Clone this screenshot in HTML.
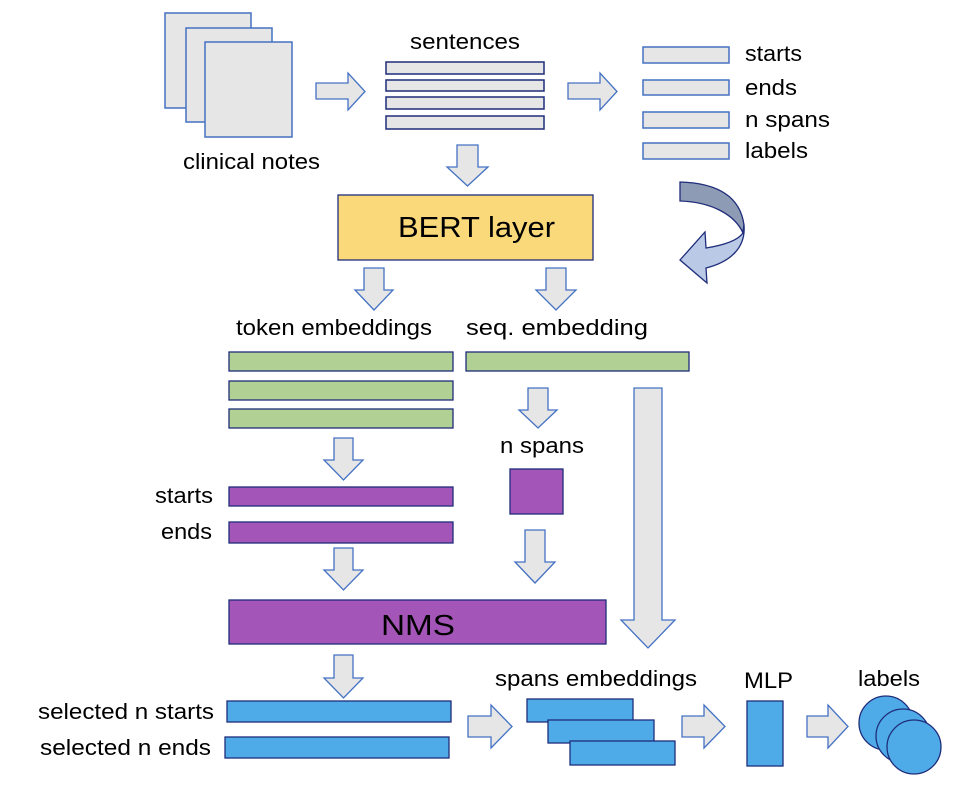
<!DOCTYPE html>
<html><head><meta charset="utf-8"><style>
html,body{margin:0;padding:0;background:#fff;}
svg{display:block;}
text{font-family:"Liberation Sans",Arial,sans-serif;fill:#000;}
</style></head><body>
<svg width="966" height="792" viewBox="0 0 966 792" xmlns="http://www.w3.org/2000/svg">
<defs>
<style>
.pg{fill:#e6e6e6;stroke:#4472c4;stroke-width:1.5}
.ar{fill:#e6e6e6;stroke:#4472c4;stroke-width:1.3}
.bar{fill:#e6e6e6;stroke:#1f2d7a;stroke-width:1.5}
.gr{fill:#b1d094;stroke:#1f2d7a;stroke-width:1.3}
.pu{fill:#a455b8;stroke:#1f2d7a;stroke-width:1.3}
.bl{fill:#4eabe8;stroke:#1f2d7a;stroke-width:1.3}
.t{font-size:22px}
</style>
</defs>
<rect class="pg" x="165" y="13" width="86" height="95"/>
<rect class="pg" x="186" y="28" width="86" height="94"/>
<rect class="pg" x="205" y="42" width="87" height="95"/>
<text class="t" x="183" y="169" textLength="137" lengthAdjust="spacingAndGlyphs">clinical notes</text>
<path class="ar" d="M316,83 H348 V73 L365,91.5 L348,110 V99 H316 Z"/>
<text class="t" x="410" y="49" textLength="110" lengthAdjust="spacingAndGlyphs">sentences</text>
<rect class="bar" x="386" y="62" width="158" height="12"/>
<rect class="bar" x="386" y="80" width="158" height="11"/>
<rect class="bar" x="386" y="97" width="158" height="12"/>
<rect class="bar" x="386" y="116" width="158" height="13"/>
<path class="ar" d="M568,83 H600 V73 L617,91.5 L600,110 V99 H568 Z"/>
<rect class="pg" x="643" y="47" width="86" height="16"/>
<rect class="pg" x="643" y="80" width="86" height="15"/>
<rect class="pg" x="643" y="112" width="86" height="16"/>
<rect class="pg" x="643" y="143" width="86" height="16"/>
<text class="t" x="745" y="61" textLength="57" lengthAdjust="spacingAndGlyphs">starts</text>
<text class="t" x="745" y="95" textLength="52" lengthAdjust="spacingAndGlyphs">ends</text>
<text class="t" x="745" y="127" textLength="85" lengthAdjust="spacingAndGlyphs">n spans</text>
<text class="t" x="745" y="158" textLength="63" lengthAdjust="spacingAndGlyphs">labels</text>
<path class="ar" d="M457,145 H478 V167 H488 L467.5,186 L447,167 H457 Z"/>
<rect x="338" y="195" width="255" height="65" fill="#f9d97a" stroke="#1f2d7a" stroke-width="1.3"/>
<text x="398" y="237" font-size="29" textLength="157" lengthAdjust="spacingAndGlyphs">BERT layer</text>
<path d="M680,182 C715,183 740,195 744,225 L743,233 C735,215 712,202 680,201 Z" fill="#8e9bb4" stroke="#1f2d7a" stroke-width="1.3"/>
<path d="M744,225 C746,248 730,262 706,268 L707,283 L680,260 L705,232 L706,248 C725,245 738,240 743,233 Z" fill="#b9c9e6" stroke="#1f2d7a" stroke-width="1.3"/>
<path class="ar" d="M364,268 H384 V290 H393 L374,310 L355,290 H364 Z"/>
<path class="ar" d="M546,268 H566 V290 H576 L556,310 L536,290 H546 Z"/>
<text class="t" x="236" y="335" textLength="196" lengthAdjust="spacingAndGlyphs">token embeddings</text>
<text class="t" x="466" y="335" textLength="182" lengthAdjust="spacingAndGlyphs">seq. embedding</text>
<rect class="gr" x="229" y="352" width="224" height="19"/>
<rect class="gr" x="229" y="381" width="224" height="19"/>
<rect class="gr" x="229" y="409" width="224" height="19"/>
<rect class="gr" x="466" y="352" width="223" height="19"/>
<path class="ar" d="M634,388 H662 V620 H675 L648,648 L621,620 H634 Z"/>
<path class="ar" d="M528,388 H548 V410 H557 L538,428 L519,410 H528 Z"/>
<text class="t" x="500" y="453" textLength="84" lengthAdjust="spacingAndGlyphs">n spans</text>
<rect class="pu" x="510" y="469" width="53" height="45"/>
<path class="ar" d="M334,438 H353 V460 H363 L343.5,480 L324,460 H334 Z"/>
<text class="t" x="155" y="503" textLength="58" lengthAdjust="spacingAndGlyphs">starts</text>
<text class="t" x="161" y="539" textLength="51" lengthAdjust="spacingAndGlyphs">ends</text>
<rect class="pu" x="229" y="487" width="224" height="19"/>
<rect class="pu" x="229" y="522" width="224" height="21"/>
<path class="ar" d="M334,548 H353 V570 H363 L343.5,590 L324,570 H334 Z"/>
<path class="ar" d="M525,530 H545 V562 H555 L535,583 L515,562 H525 Z"/>
<rect class="pu" x="229" y="600" width="377" height="44"/>
<text x="381" y="635" font-size="29" textLength="74" lengthAdjust="spacingAndGlyphs">NMS</text>
<path class="ar" d="M334,655 H353 V678 H363 L343.5,698 L324,678 H334 Z"/>
<rect class="bl" x="227" y="701" width="224" height="21"/>
<rect class="bl" x="225" y="737" width="224" height="21"/>
<text class="t" x="38" y="719" textLength="176" lengthAdjust="spacingAndGlyphs">selected n starts</text>
<text class="t" x="40" y="755" textLength="171" lengthAdjust="spacingAndGlyphs">selected n ends</text>
<path class="ar" d="M468,716 H491 V705 L512,726.5 L491,748 V737 H468 Z"/>
<text class="t" x="495" y="686" textLength="202" lengthAdjust="spacingAndGlyphs">spans embeddings</text>
<rect class="bl" x="527" y="699" width="106" height="23"/>
<rect class="bl" x="548" y="720" width="106" height="23"/>
<rect class="bl" x="570" y="741" width="105" height="24"/>
<path class="ar" d="M682,716 H704 V705 L725,726.5 L704,748 V737 H682 Z"/>
<text class="t" x="744" y="688" textLength="49" lengthAdjust="spacingAndGlyphs">MLP</text>
<rect class="bl" x="747" y="701" width="36" height="65"/>
<path class="ar" d="M807,716 H828 V705 L848,726.5 L828,748 V737 H807 Z"/>
<text class="t" x="858" y="686" textLength="62" lengthAdjust="spacingAndGlyphs">labels</text>
<circle class="bl" cx="886" cy="723" r="27"/>
<circle class="bl" cx="903" cy="736" r="27"/>
<circle class="bl" cx="914" cy="747" r="27"/>
</svg>
</body></html>
